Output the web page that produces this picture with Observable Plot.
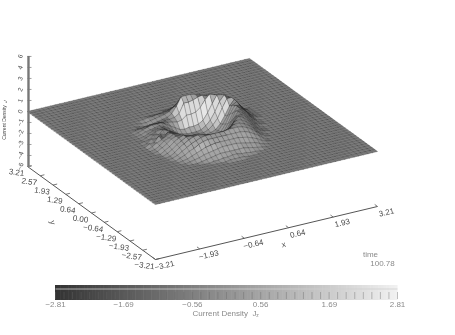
<!DOCTYPE html>
<html><head><meta charset="utf-8">
<script src="https://cdn.jsdelivr.net/npm/d3@7"></script>
<script src="https://cdn.jsdelivr.net/npm/@observablehq/plot@0.6"></script>
<style>
html,body{margin:0;padding:0;background:#fff}
svg{display:block;filter:blur(0.3px)}
</style></head><body><div id="c"></div>
<script>
// Axis values
const xLabels = [-3.21,-1.93,-0.64,0.64,1.93,3.21];
const yLabels = [-3.21,-2.57,-1.93,-1.29,-0.64,0.00,0.64,1.29,1.93,2.57,3.21];
const zValues = [6,4.8,3.6,2.4,1.2,0,-1.2,-2.4,-3.6,-4.8,-6];
const zTexts  = ["6","4","3","2","1","0","\u22121","\u22122","\u22123","\u22124","\u22126"];
const barLabels = [-2.81,-1.69,-0.56,0.56,1.69,2.81];
const timeValue = "100.78";
const nodes = 49;            // mesh lines per side
const rowFirst = 35, colFirst = 9; // table origin in mesh indices
// Height of Jz surface (tenths); back row first. Outside: flat 0.
const heightRows = [
[0,0,0,0,0,0,0,0,0,0,0,0,0,1,1,3,3,3,3,2,1,1,0,0,0,0,0,0,0,0,0],
[0,0,0,0,0,0,0,0,0,1,1,2,2,3,5,8,8,8,7,6,4,2,1,0,0,0,0,0,0,0,0],
[0,0,0,0,0,0,0,-1,-1,0,1,2,3,5,9,14,14,14,13,12,10,7,4,2,0,0,0,0,0,0,0],
[0,0,0,0,0,0,-1,-2,-2,-1,0,1,2,5,12,21,21,21,20,18,15,11,7,4,2,1,0,0,0,0,0],
[0,0,0,0,0,0,-1,-2,-1,0,1,2,2,3,6,16,16,17,19,20,18,14,10,6,3,1,0,0,0,0,0],
[0,0,0,0,1,2,3,4,4,4,3,2,1,0,1,5,5,6,10,17,22,20,16,11,6,3,1,0,0,0,0],
[0,0,0,0,1,3,5,6,6,6,3,0,-3,-6,-7,-6,-6,-5,-2,5,14,22,21,16,10,5,2,0,0,0,0],
[0,0,0,0,1,3,4,5,6,4,1,-3,-7,-9,-10,-10,-10,-9,-6,-1,7,17,23,19,13,7,3,1,0,0,0],
[0,0,0,0,1,3,5,6,6,3,-1,-6,-9,-10,-10,-10,-10,-10,-8,-4,2,12,21,21,15,9,4,1,0,0,0],
[0,0,0,0,2,4,6,7,7,2,-3,-8,-10,-10,-10,-10,-10,-10,-9,-7,-2,6,15,21,15,8,3,1,0,0,0],
[0,0,0,1,2,6,5,9,7,1,-4,-9,-10,-10,-10,-10,-10,-10,-9,-6,0,8,18,21,14,8,3,1,0,0,0],
[0,0,0,1,5,4,8,6,9,2,-4,-9,-10,-10,-10,-10,-10,-10,-8,-5,2,12,20,19,13,7,3,1,0,0,0],
[0,0,0,3,3,9,6,11,10,3,-4,-9,-10,-10,-10,-10,-10,-9,-7,-3,5,15,21,17,12,6,2,0,0,0,0],
[0,0,0,2,5,7,10,12,11,5,-2,-8,-10,-10,-10,-10,-9,-8,-5,0,9,19,20,15,10,5,1,0,0,0,0],
[0,0,0,1,4,8,10,13,12,8,2,-3,-6,-8,-9,-9,-8,-6,-2,5,14,21,18,13,8,3,1,0,0,0,0],
[0,0,0,1,4,7,11,13,13,11,6,0,-3,-6,-7,-7,-6,-3,3,10,19,20,16,11,6,2,0,0,0,0,0],
[0,0,0,0,3,6,10,13,15,13,12,6,3,0,-2,-2,-1,3,10,17,21,18,14,9,4,1,0,0,0,0,0],
[0,0,0,0,2,5,9,12,15,15,15,13,9,7,6,6,8,12,17,20,19,16,12,7,3,1,0,0,0,0,0],
[0,0,0,0,1,4,8,11,14,16,17,16,15,14,13,14,15,17,19,19,17,14,10,5,2,0,0,0,0,0,0],
[0,0,0,0,1,3,6,9,12,14,16,17,17,17,17,17,18,18,18,17,15,12,8,4,1,0,0,0,0,0,0],
[0,0,0,0,0,2,4,7,9,12,14,15,15,15,15,15,15,15,15,14,12,9,6,2,0,0,0,0,0,0,0],
[0,0,0,0,0,1,2,4,6,8,10,11,12,12,12,12,12,12,11,10,8,6,3,1,0,0,0,0,0,0,0],
[0,0,0,0,0,0,1,2,3,5,6,7,8,9,9,9,9,8,7,6,5,3,1,0,0,0,0,0,0,0,0],
[0,0,0,0,0,0,0,0,1,2,3,4,5,5,5,5,5,5,4,3,2,1,0,0,0,0,0,0,0,0,0],
[0,0,0,0,0,0,0,0,0,0,1,1,2,2,3,3,2,2,1,1,0,0,0,0,0,0,0,0,0,0,0],
[0,0,0,0,0,0,0,0,0,0,0,0,0,1,1,1,1,0,0,0,0,0,0,0,0,0,0,0,0,0,0]
];

// Oblique view read from the box corners (page pixels per data unit)
const origin = [155, 204], ux = [34.58, -8.26], uy = [-19.94, -14.49], uz = 9.17, lim = 3.21;
const px = (x, y, z) => origin[0] + ux[0]*(x+lim) + uy[0]*(y+lim);
const py = (x, y, z) => origin[1] + ux[1]*(x+lim) + uy[1]*(y+lim) - uz*z;
const step = 2*lim/(nodes-1);
const height = (i, j) => ((heightRows[rowFirst-j] || [])[i-colFirst] ?? 0)/10;

// A fine wire mesh reads as a grey whose depth follows how far each cell is stretched on the page
const flatArea = Math.abs(ux[0]*uy[1]-ux[1]*uy[0])*step*step;
const tone = t => {
  const c = Math.min(1, 0.66/Math.pow(t, 0.45)*(t > 2.5 ? Math.pow(2.5/t, 0.8) : 1));
  return d3.rgb(...Array(3).fill(255-c*200)).formatHex();
};
const quads = [];
let q = 0;
for (let j = nodes-2; j >= 0; j--) for (let i = nodes-2; i >= 0; i--) {
  const pts = [[i,j],[i+1,j],[i+1,j+1],[i,j+1]].map(([a,b]) => {
    const x=-lim+a*step, y=-lim+b*step, z=height(a,b);
    return [px(x,y,z), py(x,y,z)];
  });
  const area = Math.abs(d3.polygonArea(pts));
  const fill = tone(Math.max(area,1e-3)/flatArea);
  pts.forEach(p => quads.push({q, sx:p[0], sy:p[1], fill}));
  q++;
}
const zFloor = -6;
const seg = (a,b) => ({x1:px(a[0],a[1],a[2]), y1:py(a[0],a[1],a[2]), x2:px(b[0],b[1],b[2]), y2:py(b[0],b[1],b[2])});
const axisSegs = [
  seg([-lim,-lim,zFloor],[lim,-lim,zFloor]),
  seg([-lim,-lim,zFloor],[-lim,lim,zFloor]),
];
const xTicks = xLabels.map(v=>seg([v,-lim,zFloor],[v,-lim+0.14,zFloor]));
const yTicks = yLabels.map(v=>seg([-lim,v,zFloor],[-lim+0.12,v,zFloor]));
const zLeft = px(-lim,lim,0), zTop = py(-lim,lim,0);
const zTicks = zValues.map(v=>({x1:zLeft,x2:zLeft+4,y1:zTop-uz*v,y2:zTop-uz*v}));
const fnt = {fontFamily:"Liberation Sans, DejaVu Sans, sans-serif"};
const gray="#4a4a4a";
const fmt = d3.format(".2f");
const sgn = v => fmt(v).replace("-","\u2212");
const main = Plot.plot({
  width:455, height:275, margin:0,
  x:{domain:[0,455],range:[0,455],axis:null},
  y:{domain:[0,275],range:[0,275],axis:null},
  color:{type:"identity"},
  marks:[
    Plot.line(quads,{x:"sx",y:"sy",z:"q",curve:"linear-closed",fill:"fill",stroke:"#2a2a2a",strokeWidth:0.55,strokeOpacity:0.55}),
    Plot.link(axisSegs,{x1:"x1",y1:"y1",x2:"x2",y2:"y2",stroke:"#555",strokeWidth:1}),
    Plot.link(xTicks,{x1:"x1",y1:"y1",x2:"x2",y2:"y2",stroke:"#555",strokeWidth:0.8}),
    Plot.link(yTicks,{x1:"x1",y1:"y1",x2:"x2",y2:"y2",stroke:"#555",strokeWidth:0.8}),
    Plot.ruleX([zLeft+1],{y1:zTop-uz*6,y2:zTop+uz*6,stroke:"#777",strokeWidth:2.4}),
    Plot.link(zTicks,{x1:"x1",y1:"y1",x2:"x2",y2:"y2",stroke:"#777",strokeWidth:0.7}),
    Plot.text(zValues,{x:()=>20,y:d=>zTop-uz*d,text:(d,k)=>zTexts[k],fontSize:6.5,fill:gray,rotate:-70,...fnt}),
    Plot.text(xLabels,{x:v=>px(v,-lim,zFloor)+9,y:v=>py(v,-lim,zFloor)+6,text:sgn,fontSize:8,fill:gray,rotate:-13,...fnt}),
    Plot.text(yLabels,{x:v=>px(-lim,v,zFloor)-11,y:v=>py(-lim,v,zFloor)+6,text:sgn,fontSize:8,fill:gray,rotate:8,...fnt}),
    Plot.text(["x"],{x:()=>283,y:()=>244,fontSize:8,fill:gray,rotate:-13,...fnt}),
    Plot.text(["y"],{x:()=>52,y:()=>222,fontSize:8,fill:gray,rotate:80,...fnt}),
    Plot.text(["Current Density"],{x:()=>4,y:()=>122,fontSize:5,fill:gray,rotate:-90,...fnt}),
    Plot.text(["J"],{x:()=>5,y:()=>101,fontSize:5,fill:gray,rotate:-60,...fnt}),
    Plot.text(["time"],{x:()=>370,y:()=>254,fontSize:8,fill:"#8a8a8a",...fnt}),
    Plot.text([timeValue],{x:()=>382,y:()=>263,fontSize:8,fill:"#8a8a8a",...fnt})
  ]
});
const levels = d3.range(0,128);
const lo=barLabels[0], hi=barLabels[5], dv=(hi-lo)/128;
const minor = d3.range(0,41).map(k=>lo+k*(hi-lo)/40);
const bar = Plot.plot({
  width:455, height:60, margin:0,
  x:{domain:[lo,hi],range:[55,397],axis:null},
  y:{domain:[0,1],range:[27,9],axis:null},
  color:{type:"linear",domain:[lo,hi],range:["#333333","#f2f2f2"]},
  marks:[
    Plot.rect(levels,{x1:k=>lo+k*dv,x2:k=>lo+(k+1)*dv+dv*0.2,y1:()=>0,y2:()=>1,fill:k=>lo+k*dv}),
    Plot.link([lo],{x1:()=>lo,x2:()=>hi,y1:()=>1,y2:()=>1,stroke:"#cfcfcf",strokeWidth:0.8}),
    Plot.tickX(minor,{y:()=>0,dy:-1,stroke:"#666",strokeWidth:0.5,strokeOpacity:0.8}),
    Plot.text(barLabels,{x:d=>d,y:()=>0,dy:7,text:sgn,fontSize:8,fill:"#8a8a8a",...fnt}),
    Plot.text(["Current Density  J"],{x:()=>0,y:()=>0,dy:16,dx:-2,fontSize:8,fill:"#8a8a8a",...fnt}),
    Plot.text(["z"],{x:()=>0,y:()=>0,dy:18,dx:31,fontSize:5,fill:"#8a8a8a",...fnt})
  ]
});
document.getElementById("c").append(main,bar);
</script></body></html>
